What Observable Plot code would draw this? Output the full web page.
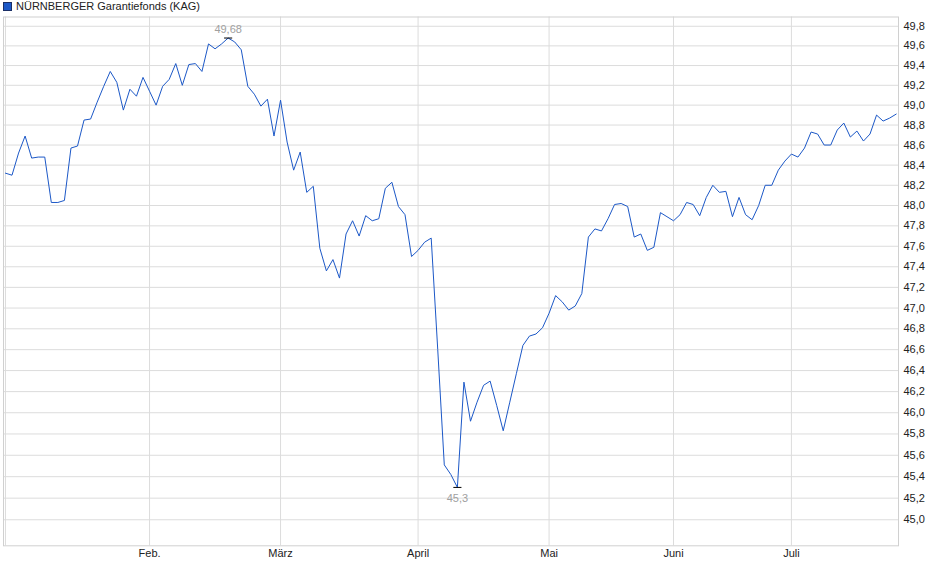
<!DOCTYPE html>
<html>
<head>
<meta charset="utf-8">
<script src="https://cdn.jsdelivr.net/npm/d3@7"></script>
<script src="https://cdn.jsdelivr.net/npm/@observablehq/plot@0.6"></script>
<style>
  html, body { margin: 0; padding: 0; background: #fff; }
  body { width: 940px; height: 579px; overflow: hidden; font-family: "Liberation Sans", Arial, sans-serif; }
  #legend { height: 13px; line-height: 13px; font-size: 11px; color: #222; padding-left: 3px; white-space: nowrap; }
  #legend .sw { display: inline-block; width: 7px; height: 7px; background: #1c58c7; border: 1px solid #1b2f66; vertical-align: -1px; margin-right: 4px; }
  #chart svg { display: block; }
</style>
</head>
<body>
<div id="legend"><span class="sw"></span>NÜRNBERGER Garantiefonds (KAG)</div>
<div id="chart"></div>
<script>
const seriesName = "NÜRNBERGER Garantiefonds (KAG)";

// daily fund prices (trading days, Jan – Jul)
const prices = [
  48.32, 48.30, 48.52, 48.69, 48.47, 48.48, 48.48, 48.03, 48.03, 48.05,
  48.57, 48.59, 48.85, 48.86, 49.03, 49.19, 49.34, 49.23, 48.95, 49.16,
  49.09, 49.28, 49.14, 49.00, 49.19, 49.26, 49.42, 49.20, 49.41, 49.42,
  49.34, 49.62, 49.57, 49.62, 49.68, 49.64, 49.56, 49.19, 49.11, 48.99,
  49.06, 48.69, 49.05, 48.63, 48.35, 48.53, 48.13, 48.19, 47.58, 47.36,
  47.47, 47.29, 47.72, 47.85, 47.70, 47.90, 47.85, 47.87, 48.17, 48.23,
  47.99, 47.91, 47.50, 47.56, 47.64, 47.68, 46.60, 45.51, 45.42, 45.30,
  46.29, 45.92, 46.10, 46.26, 46.30, 46.07, 45.83, 46.10, 46.37, 46.64,
  46.73, 46.75, 46.81, 46.95, 47.12, 47.06, 46.98, 47.02, 47.14, 47.69,
  47.77, 47.75, 47.87, 48.01, 48.02, 47.99, 47.69, 47.72, 47.56, 47.59,
  47.93, 47.89, 47.85, 47.91, 48.03, 48.01, 47.90, 48.08, 48.20, 48.13,
  48.14, 47.89, 48.08, 47.91, 47.86, 48.00, 48.20, 48.20, 48.35, 48.44,
  48.51, 48.48, 48.57, 48.73, 48.71, 48.60, 48.60, 48.75, 48.82, 48.68,
  48.74, 48.64, 48.71, 48.90, 48.84, 48.87, 48.91
];

// first trading day of each month (index into prices) and its label
const monthTicks = [22, 42, 63, 83, 102, 120];
const monthLabels = ["Feb.", "März", "April", "Mai", "Juni", "Juli"];

// right-hand axis ticks
const yTicks = [45.0, 45.2, 45.4, 45.6, 45.8, 46.0, 46.2, 46.4, 46.6, 46.8,
                47.0, 47.2, 47.4, 47.6, 47.8, 48.0, 48.2, 48.4, 48.6, 48.8,
                49.0, 49.2, 49.4, 49.6, 49.8];

const data = prices.map((v, i) => ({i, v}));
const maxPt = data.reduce((a, b) => (b.v > a.v ? b : a));
const minPt = data.reduce((a, b) => (b.v < a.v ? b : a));
const fmt = v => String(v).replace(".", ",");
const fmt1 = v => v.toFixed(1).replace(".", ",");
const labelOf = new Map(monthTicks.map((t, k) => [t, monthLabels[k]]));

const chart = Plot.plot({
  width: 940,
  height: 566,
  marginTop: 3.5,
  marginBottom: 33.7,
  marginLeft: 3,
  marginRight: 42,
  style: {fontFamily: '"Liberation Sans", Arial, sans-serif', fontSize: "11px", background: "#fff"},
  x: {type: "linear", domain: [-0.3, prices.length - 0.65], axis: null, label: null},
  y: {type: "log", domain: [44.76, 49.895], axis: null, label: null},
  marks: [
    Plot.ruleY(yTicks, {stroke: "#dcdcdc", strokeWidth: 1}),
    Plot.ruleX(monthTicks, {stroke: "#dcdcdc", strokeWidth: 1}),
    Plot.ruleX([0], {stroke: "#dcdcdc", strokeWidth: 1}),
    Plot.frame({stroke: "#d0d0d0", strokeWidth: 1}),
    Plot.axisY(yTicks, {anchor: "right", label: null, tickSize: 0, tickPadding: 5, tickFormat: fmt1, fill: "#222", fontSize: 11}),
    Plot.axisX(monthTicks, {anchor: "bottom", label: null, tickSize: 0, tickPadding: 3, tickFormat: d => labelOf.get(d), fill: "#222", fontSize: 11}),
    Plot.lineY(data, {x: "i", y: "v", stroke: "#1c58c7", strokeWidth: 1}),
    Plot.link([maxPt, minPt], {x1: d => d.i - 0.62, x2: d => d.i + 0.62, y1: "v", y2: "v", stroke: "#000", strokeWidth: 1}),
    Plot.text([maxPt], {x: "i", y: "v", text: d => fmt(d.v), dy: -9, fill: "#a0a0a0", fontSize: 11}),
    Plot.text([minPt], {x: "i", y: "v", text: d => fmt(d.v), dy: 11, fill: "#a0a0a0", fontSize: 11})
  ]
});
document.getElementById("chart").appendChild(chart);
</script>
</body>
</html>
